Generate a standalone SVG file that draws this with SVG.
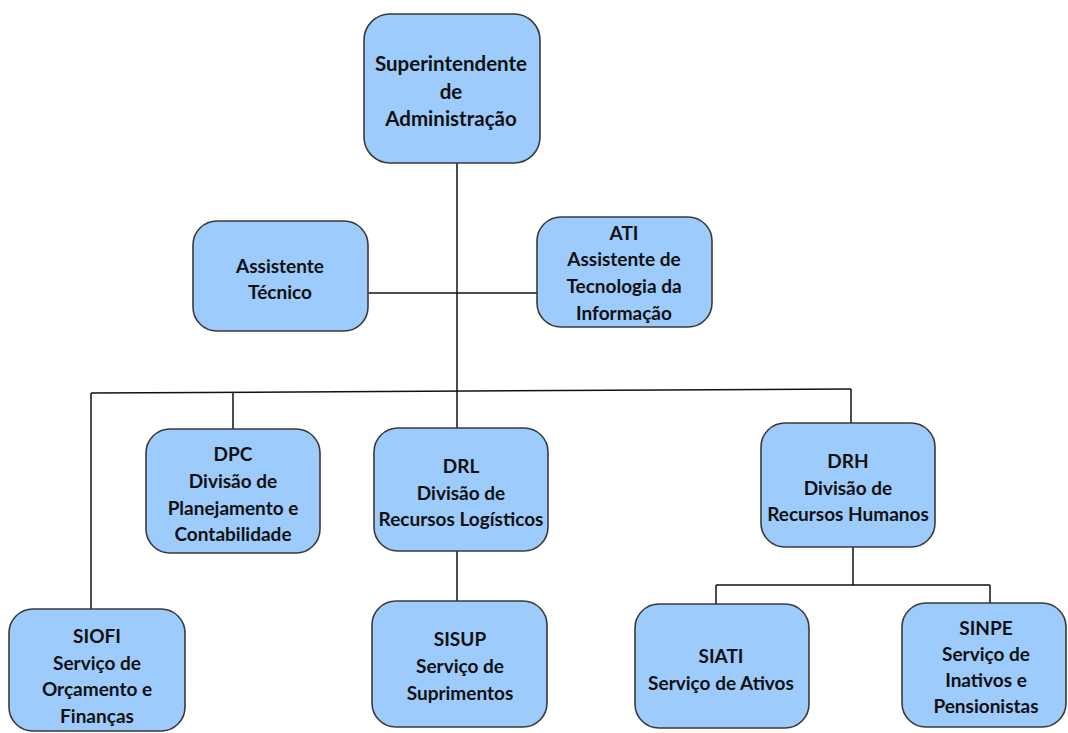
<svg xmlns="http://www.w3.org/2000/svg" width="1068" height="733" viewBox="0 0 1068 733">
<style>
.box{fill:#9dcbfb;stroke:#3a3a3a;stroke-width:1.6}
.t{font-family:Lato,"Liberation Sans",sans-serif;font-weight:bold;font-size:19px;fill:#111;text-anchor:middle;dominant-baseline:central}
.big{font-size:20.5px}
.c{stroke:#111;stroke-width:1.5;fill:none}
</style>
<rect width="1068" height="733" fill="#ffffff"/>
<g id="connectors">
<path class="c" d="M457 163V428"/>
<path class="c" d="M368 293H537"/>
<path class="c" d="M91 393L851 389"/>
<path class="c" d="M91 393V609"/>
<path class="c" d="M233 392V429"/>
<path class="c" d="M851 389V423"/>
<path class="c" d="M457 551V601"/>
<path class="c" d="M853 547V585M716 585H990M716 585V604M990 585V603"/>
</g>
<g id="sup">
<rect class="box" x="364" y="14" width="176" height="149" rx="26"/>
<text class="t big"><tspan x="451" y="63">Superintendente</tspan><tspan x="451" y="91">de</tspan><tspan x="451" y="118">Administração</tspan></text>
</g>
<g id="assistente">
<rect class="box" x="193" y="221" width="175" height="110" rx="24"/>
<text class="t"><tspan x="280" y="265">Assistente</tspan><tspan x="280" y="291">Técnico</tspan></text>
</g>
<g id="ati">
<rect class="box" x="537" y="217" width="175" height="110" rx="24"/>
<text class="t"><tspan x="624" y="232">ATI</tspan><tspan x="624" y="258">Assistente de</tspan><tspan x="624" y="285">Tecnologia da</tspan><tspan x="624" y="312">Informação</tspan></text>
</g>
<g id="dpc">
<rect class="box" x="146" y="429" width="174" height="124" rx="24"/>
<text class="t"><tspan x="233" y="453">DPC</tspan><tspan x="233" y="480">Divisão de</tspan><tspan x="233" y="507">Planejamento e</tspan><tspan x="233" y="533">Contabilidade</tspan></text>
</g>
<g id="drl">
<rect class="box" x="374" y="428" width="174" height="123" rx="24"/>
<text class="t"><tspan x="461" y="465">DRL</tspan><tspan x="461" y="492">Divisão de</tspan><tspan x="461" y="518">Recursos Logísticos</tspan></text>
</g>
<g id="drh">
<rect class="box" x="761" y="423" width="174" height="124" rx="24"/>
<text class="t"><tspan x="848" y="460">DRH</tspan><tspan x="848" y="487">Divisão de</tspan><tspan x="848" y="513">Recursos Humanos</tspan></text>
</g>
<g id="siofi">
<rect class="box" x="9" y="609" width="176" height="122" rx="24"/>
<text class="t"><tspan x="97" y="635">SIOFI</tspan><tspan x="97" y="662">Serviço de</tspan><tspan x="97" y="688">Orçamento e</tspan><tspan x="97" y="715">Finanças</tspan></text>
</g>
<g id="sisup">
<rect class="box" x="372" y="601" width="175" height="126" rx="24"/>
<text class="t"><tspan x="460" y="638">SISUP</tspan><tspan x="460" y="665">Serviço de</tspan><tspan x="460" y="692">Suprimentos</tspan></text>
</g>
<g id="siati">
<rect class="box" x="635" y="604" width="174" height="124" rx="24"/>
<text class="t"><tspan x="721" y="655">SIATI</tspan><tspan x="721" y="682">Serviço de Ativos</tspan></text>
</g>
<g id="sinpe">
<rect class="box" x="902" y="603" width="164" height="124" rx="24"/>
<text class="t"><tspan x="986" y="627">SINPE</tspan><tspan x="986" y="653">Serviço de</tspan><tspan x="986" y="679">Inativos e</tspan><tspan x="986" y="705">Pensionistas</tspan></text>
</g>
</svg>
